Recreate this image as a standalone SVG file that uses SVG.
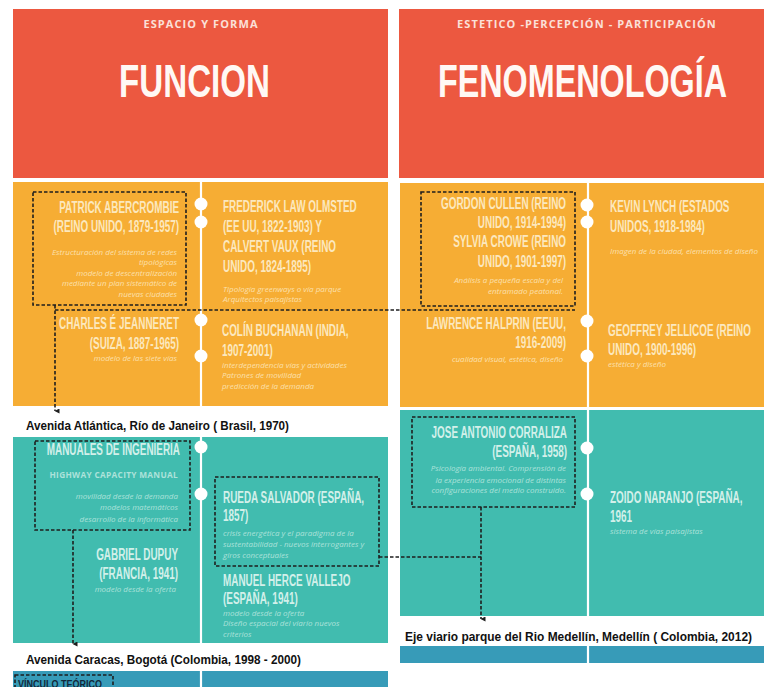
<svg xmlns="http://www.w3.org/2000/svg" width="764" height="687" viewBox="0 0 764 687">
<defs>
<style>
.red{fill:#EC5840}
.org{fill:#F6AD34}
.teal{fill:#41BCAF}
.blue{fill:#379BB8}
.div{stroke:#ffffff;stroke-width:2.2}
.dot{fill:#ffffff}
.sub{font-family:"Open Sans","Liberation Sans",sans-serif;font-weight:700;font-size:11px;fill:#FBE0D8;letter-spacing:1.1px;text-anchor:middle}
.big{font-family:"Liberation Sans",sans-serif;font-weight:700;font-size:47px;fill:#FFF8F4}
.nm{font-family:"Liberation Sans",sans-serif;font-weight:700;font-size:16px}
.no{fill:#FCE8BE}
.nt{fill:#D3F0EA}
.it{font-family:"Open Sans","Liberation Sans",sans-serif;font-style:italic;font-size:8px}
.io{fill:#FCE0AE}
.iteal{fill:#ADE2DA}
.end{text-anchor:end}
.cap{font-family:"Liberation Sans",sans-serif;font-weight:700;font-size:12.5px;fill:#111111}
.hcm{font-family:"Open Sans","Liberation Sans",sans-serif;font-weight:700;font-size:8.3px;fill:#ADE2DA;letter-spacing:0.3px;text-anchor:end}
.box{fill:none;stroke:#1E1E1E;stroke-width:1.6;stroke-dasharray:3.5 2}
.con{fill:none;stroke:#1E1E1E;stroke-width:1.6;stroke-dasharray:3.5 2}
</style>
<marker id="arr" viewBox="0 0 10 10" refX="5" refY="9" markerWidth="5" markerHeight="5" orient="auto-start-reverse" markerUnits="userSpaceOnUse">
<path d="M0,0 L10,0 L5,10 z" fill="#1E1E1E"/>
</marker>
</defs>
<rect width="764" height="687" fill="#ffffff"/>

<g id="panels">
<rect class="red" x="13" y="9" width="375" height="169"/>
<rect class="red" x="399" y="9" width="365" height="169"/>
<rect class="org" x="13" y="182" width="375" height="224"/>
<rect class="org" x="400" y="183" width="364" height="224"/>
<rect class="teal" x="13" y="437" width="375" height="206"/>
<rect class="teal" x="400" y="410" width="364" height="206"/>
<rect class="blue" x="13" y="671" width="375" height="16"/>
<rect class="blue" x="400" y="646" width="364" height="17"/>
<line class="div" x1="201" y1="182" x2="201" y2="406"/>
<line class="div" x1="201" y1="437" x2="201" y2="643"/>
<line class="div" x1="201" y1="671" x2="201" y2="687"/>
<line class="div" x1="588" y1="183" x2="588" y2="616"/>
<line class="div" x1="588" y1="646" x2="588" y2="663"/>
<circle class="dot" cx="201" cy="204" r="6.5"/>
<circle class="dot" cx="201" cy="222" r="6.5"/>
<circle class="dot" cx="201" cy="320" r="6.5"/>
<circle class="dot" cx="201" cy="356" r="6.5"/>
<circle class="dot" cx="201" cy="447" r="6.5"/>
<circle class="dot" cx="201" cy="494" r="6.5"/>
<circle class="dot" cx="587" cy="205" r="6.5"/>
<circle class="dot" cx="587" cy="222" r="6.5"/>
<circle class="dot" cx="587" cy="321" r="6.5"/>
<circle class="dot" cx="587" cy="356" r="6.5"/>
<circle class="dot" cx="587" cy="448" r="6.5"/>
<circle class="dot" cx="587" cy="494" r="6.5"/>
</g>

<g id="header-funcion">
<text class="sub" x="201" y="28">ESPACIO Y FORMA</text>
<text class="big" x="119" y="97" textLength="151" lengthAdjust="spacingAndGlyphs">FUNCION</text>
</g>
<g id="header-fenomenologia">
<text class="sub" x="587" y="28">ESTETICO -PERCEPCIÓN - PARTICIPACIÓN</text>
<text class="big" x="438" y="97" textLength="289" lengthAdjust="spacingAndGlyphs">FENOMENOLOGÍA</text>
</g>

<g id="n-abercrombie">
<rect class="box" x="33" y="192" width="153" height="113"/>
<text class="nm no end" transform="translate(179 213) scale(0.62 1)">PATRICK ABERCROMBIE</text>
<text class="nm no end" transform="translate(179 232) scale(0.62 1)">(REINO UNIDO, 1879-1957)</text>
<text class="it io end" x="177" y="254.5">Estructuración del sistema de redes</text>
<text class="it io end" x="177" y="265">tipológicas</text>
<text class="it io end" x="177" y="275.5">modelo de descentralización</text>
<text class="it io end" x="177" y="286">mediante un plan sistemático de</text>
<text class="it io end" x="177" y="296.5">nuevas ciudades</text>
</g>

<g id="n-olmsted">
<text class="nm no" transform="translate(223 212) scale(0.62 1)">FREDERICK LAW OLMSTED</text>
<text class="nm no" transform="translate(223 232) scale(0.62 1)">(EE UU, 1822-1903) Y</text>
<text class="nm no" transform="translate(223 252) scale(0.62 1)">CALVERT VAUX (REINO</text>
<text class="nm no" transform="translate(223 271.5) scale(0.62 1)">UNIDO, 1824-1895)</text>
<text class="it io" x="223" y="292">Tipología greenways o vía parque</text>
<text class="it io" x="223" y="302">Arquitectos paisajistas</text>
</g>

<g id="n-jeanneret">
<text class="nm no end" transform="translate(179 329) scale(0.62 1)">CHARLES É JEANNERET</text>
<text class="nm no end" transform="translate(179 349) scale(0.62 1)">(SUIZA, 1887-1965)</text>
<text class="it io end" x="177" y="361">modelo de las siete vías</text>
</g>

<g id="n-buchanan">
<text class="nm no" transform="translate(222 335.5) scale(0.62 1)">COLÍN BUCHANAN (INDIA,</text>
<text class="nm no" transform="translate(222 355.5) scale(0.62 1)">1907-2001)</text>
<text class="it io" x="222" y="367.5">interdependencia vías y actividades</text>
<text class="it io" x="222" y="378">Patrones de movilidad</text>
<text class="it io" x="222" y="389">predicción de la demanda</text>
</g>

<g id="n-cullen-crowe">
<rect class="box" x="421" y="192" width="154" height="114"/>
<text class="nm no end" transform="translate(566 209) scale(0.62 1)">GORDON CULLEN (REINO</text>
<text class="nm no end" transform="translate(566 228) scale(0.62 1)">UNIDO, 1914-1994)</text>
<text class="nm no end" transform="translate(566 247) scale(0.62 1)">SYLVIA CROWE (REINO</text>
<text class="nm no end" transform="translate(566 266.5) scale(0.62 1)">UNIDO, 1901-1997)</text>
<text class="it io end" x="563" y="283">Análisis a pequeña escala y del</text>
<text class="it io end" x="563" y="293.5">entramado peatonal.</text>
</g>

<g id="n-lynch">
<text class="nm no" transform="translate(610 212) scale(0.62 1)">KEVIN LYNCH (ESTADOS</text>
<text class="nm no" transform="translate(610 232) scale(0.62 1)">UNIDOS, 1918-1984)</text>
<text class="it io" x="610" y="254">Imagen de la ciudad, elementos de diseño</text>
</g>

<g id="n-halprin">
<text class="nm no end" transform="translate(566 329) scale(0.62 1)">LAWRENCE HALPRIN (EEUU,</text>
<text class="nm no end" transform="translate(566 348) scale(0.62 1)">1916-2009)</text>
<text class="it io end" x="563" y="362">cualidad visual, estética, diseño</text>
</g>

<g id="n-jellicoe">
<text class="nm no" transform="translate(608 335.5) scale(0.62 1)">GEOFFREY JELLICOE (REINO</text>
<text class="nm no" transform="translate(608 355) scale(0.62 1)">UNIDO, 1900-1996)</text>
<text class="it io" x="608" y="367">estética y diseño</text>
</g>

<g id="n-manuales">
<rect class="box" x="35" y="441" width="155" height="89"/>
<text class="nm nt end" transform="translate(180 455) scale(0.62 1)">MANUALES DE INGENIERIA</text>
<text class="hcm" x="178" y="477.5">HIGHWAY CAPACITY MANUAL</text>
<text class="it iteal end" x="178" y="499">movilidad desde la demanda</text>
<text class="it iteal end" x="178" y="510">modelos matemáticos</text>
<text class="it iteal end" x="178" y="522">desarrollo de la informática</text>
</g>

<g id="n-dupuy">
<text class="nm nt end" transform="translate(178 560) scale(0.62 1)">GABRIEL DUPUY</text>
<text class="nm nt end" transform="translate(178 578.5) scale(0.62 1)">(FRANCIA, 1941)</text>
<text class="it iteal end" x="176" y="592">modelo desde la oferta</text>
</g>

<g id="n-rueda">
<rect class="box" x="215" y="477" width="164" height="89"/>
<text class="nm nt" transform="translate(223 502.5) scale(0.62 1)">RUEDA SALVADOR (ESPAÑA,</text>
<text class="nm nt" transform="translate(223 521) scale(0.62 1)">1857)</text>
<text class="it iteal" x="223" y="536">crisis energética y el paradigma de la</text>
<text class="it iteal" x="223" y="547">sustentabilidad - nuevos interrogantes y</text>
<text class="it iteal" x="223" y="558">giros conceptuales</text>
</g>

<g id="n-herce">
<text class="nm nt" transform="translate(223 586) scale(0.62 1)">MANUEL HERCE VALLEJO</text>
<text class="nm nt" transform="translate(223 604) scale(0.62 1)">(ESPAÑA, 1941)</text>
<text class="it iteal" x="223" y="615.5">modelo desde la oferta</text>
<text class="it iteal" x="223" y="626">Diseño espacial del viario nuevos</text>
<text class="it iteal" x="223" y="636.5">criterios</text>
</g>

<g id="n-corraliza">
<rect class="box" x="412" y="417" width="163" height="90"/>
<text class="nm nt end" transform="translate(567 437.5) scale(0.62 1)">JOSE ANTONIO CORRALIZA</text>
<text class="nm nt end" transform="translate(567 456.5) scale(0.62 1)">(ESPAÑA, 1958)</text>
<text class="it iteal end" x="566" y="471">Psicología ambiental. Comprensión de</text>
<text class="it iteal end" x="566" y="482.5">la experiencia emocional de distintas</text>
<text class="it iteal end" x="566" y="493">configuraciones del medio construido.</text>
</g>

<g id="n-zoido">
<text class="nm nt" transform="translate(610 503) scale(0.62 1)">ZOIDO NARANJO (ESPAÑA,</text>
<text class="nm nt" transform="translate(610 521.5) scale(0.62 1)">1961</text>
<text class="it iteal" x="610" y="534">sistema de vías paisajistas</text>
</g>

<g id="n-atlantica">
<text class="cap" x="26" y="430" textLength="263" lengthAdjust="spacingAndGlyphs">Avenida Atlántica, Río de Janeiro ( Brasil, 1970)</text>
</g>
<g id="n-caracas">
<text class="cap" x="26" y="664" textLength="275" lengthAdjust="spacingAndGlyphs">Avenida Caracas, Bogotá (Colombia, 1998 - 2000)</text>
</g>
<g id="n-medellin">
<text class="cap" x="405" y="641" textLength="347" lengthAdjust="spacingAndGlyphs">Eje viario parque del Rio Medellín, Medellín ( Colombia, 2012)</text>
</g>
<g id="n-vinculo">
<rect class="box" x="15" y="675" width="98" height="16"/>
<text x="18" y="688" font-family="Liberation Sans, sans-serif" font-weight="700" font-size="10.5" fill="#12283A" textLength="84" lengthAdjust="spacingAndGlyphs">VÍNCULO TEÓRICO</text>
</g>

<g id="connectors">
<path class="con" d="M55,305 V411" marker-end="url(#arr)"/>
<path class="con" d="M55,310 H575"/>
<path class="con" d="M73,530 V644" marker-end="url(#arr)"/>
<path class="con" d="M379,557 H481"/>
<path class="con" d="M481,507 V619" marker-end="url(#arr)"/>
</g>
</svg>
